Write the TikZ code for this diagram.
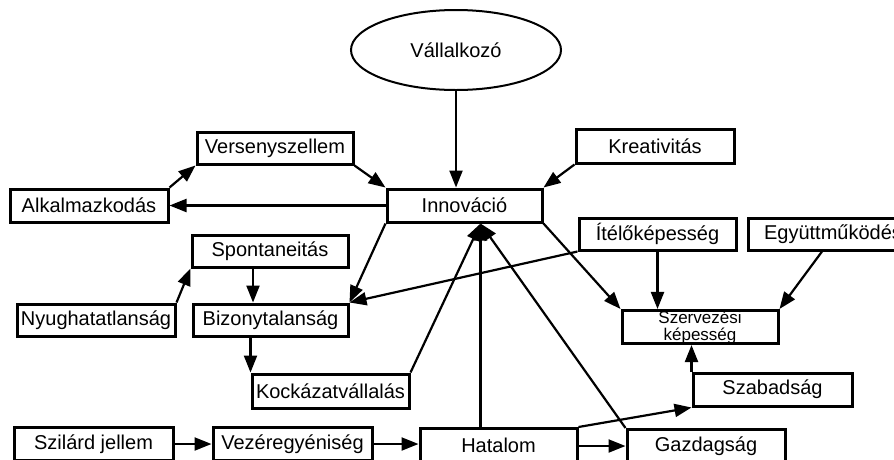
\documentclass[tikz,border=0pt]{standalone}
\usepackage{fontspec}
\setmainfont{Liberation Sans}
\usetikzlibrary{arrows.meta,shapes.geometric}

\tikzset{
  box/.style={draw, line width=3pt, rectangle, minimum width=157pt, minimum height=33pt,
              inner sep=0pt, font=\fontsize{20}{22}\selectfont},
  oval/.style={draw, line width=2pt, ellipse, minimum width=210pt, minimum height=80pt,
               inner sep=0pt, font=\fontsize{20}{22}\selectfont},
  link/.style={line width=2.2pt, -{Triangle[length=17pt,width=13pt]}}
}

\begin{document}
\begin{tikzpicture}[x=1pt,y=-1pt]
  \useasboundingbox (0,0) rectangle (894,459);
  \clip (0,0) rectangle (894,459);

  % concepts
  \node[oval] (valla) at (456,50) {Vállalkozó};
  \node[box, minimum width=155pt] (innov) at (464.5,205.5) {Innováció};
  \node[box, minimum width=156pt, minimum height=32pt] (verseny) at (275,148) {Versenyszellem};
  \node[box, minimum width=158pt] (alkal) at (89,205.5) {Alkalmazkodás};
  \node[box, minimum width=158pt, minimum height=34pt] (kreat) at (655,146) {Kreativitás};
  \node[box, minimum height=32pt] (itelo) at (657.5,234) {Ítélőképesség};
  \node[box, minimum width=170pt, minimum height=32pt] (egyutt) at (833,234) {Együttműködés};
  \node[box, minimum width=156pt, minimum height=32pt] (spont) at (270,251) {Spontaneitás};
  \node[box, minimum width=158pt, minimum height=32pt] (nyug) at (96,320) {Nyughatatlanság};
  \node[box, minimum width=155pt, minimum height=32pt] (bizony) at (270.5,320) {Bizonytalanság};
  \node[box, minimum width=156pt, minimum height=32pt, align=center,
        font=\fontsize{17}{17}\selectfont] (szerv) at (700,327) {Szervezési\\képesség};
  \node[box, minimum height=34pt] (kock) at (330.5,391) {Kockázatvállalás};
  \node[box, minimum width=159pt] (szilard) at (93.5,444) {Szilárd jellem};
  \node[box, minimum width=159pt] (vezer) at (292.5,444) {Vezéregyéniség};
  \node[box] (hatal) at (498.5,445) {Hatalom};
  \node[box, minimum width=158pt] (gazdag) at (706,446) {Gazdagság};
  \node[box, minimum width=159pt] (szabad) at (772.5,389.5) {Szabadság};

  % shared entry point under Innováció
  \coordinate (tip) at ([xshift=16pt]innov.south);

  % connectors
  \draw[link] (valla.south) -- (valla.south |- innov.north);
  \draw[link] (kreat.south west) -- (innov.north east);
  \draw[link] (verseny.south east) -- (innov.north west);
  \draw[link] (innov.west) -- (alkal.east);
  \draw[link] (alkal.north east) -- (verseny.south west);
  \draw[link] (innov.south west) -- (bizony.north east);
  \draw[link] (itelo.south west) -- (bizony.north east);
  \draw[link] (innov.south east) -- (szerv.north west);
  \draw[link] (itelo.south) -- (itelo.south |- szerv.north);
  \draw[link] ([xshift=-11pt]egyutt.south) -- (szerv.north east);
  \draw[link] ([xshift=-17pt]spont.south) -- ([xshift=-17pt]spont.south |- bizony.north);
  \draw[link] (nyug.north east) -- (spont.south west);
  \draw[link] (bizony.south -| kock.north west) -- (kock.north west);
  \draw[link] (kock.north east) -- (tip);
  \draw[link] (tip |- hatal.north) -- (tip);
  \draw[link] (gazdag.north west) -- (tip);
  \draw[link] (szabad.north west) -- (szabad.north west |- szerv.south);
  \draw[link] (hatal.north east) -- (szabad.south west);
  \draw[link] (hatal.east |- gazdag.west) -- (gazdag.west);
  \draw[link] (szilard.east) -- (vezer.west);
  \draw[link] (vezer.east) -- (hatal.west |- vezer.east);
\end{tikzpicture}
\end{document}
